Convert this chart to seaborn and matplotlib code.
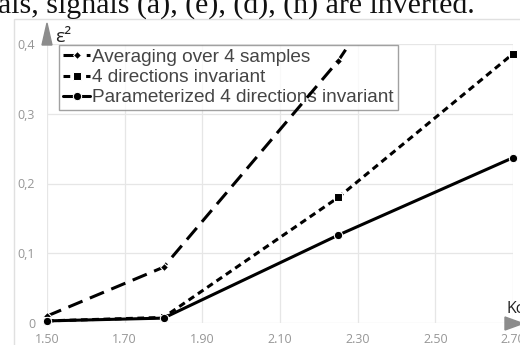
import matplotlib
matplotlib.use("Agg")
import matplotlib.pyplot as plt
from matplotlib.patches import Rectangle, Polygon
import seaborn as sns

k_values = [1.50, 1.80, 2.25, 2.70]
averaging = [0.010, 0.080, 0.376, 0.75]
four_dir = [0.003, 0.008, 0.180, 0.386]
param_four_dir = [0.003, 0.007, 0.126, 0.237]

x_ticks = [1.50, 1.70, 1.90, 2.10, 2.30, 2.50, 2.70]
x_labels = ["1.50", "1.70", "1.90", "2.10", "2.30", "2.50", "2.70"]
y_ticks = [0, 0.1, 0.2, 0.3, 0.4]
y_labels = ["0", "0,1", "0,2", "0,3", "0,4"]

W, H = 520, 345

sns.set_style("white")
plt.rcParams["font.family"] = ["Liberation Sans", "DejaVu Sans"]

fig = plt.figure(figsize=(W / 100, H / 100), dpi=100)


def px(x, y):
    # pixel position (from top-left) -> figure fraction
    return (x / W, 1 - y / H)


# caption fragment above the chart (cut off in the source)
fig.text(-0.004, 1 - 12.5 / H, "als, signals (a), (e), (d), (h) are inverted.",
         fontsize=21.5, family="Liberation Serif", color="#111111", va="baseline")

# chart frame
fig.patches.append(Rectangle(px(14, 400), 1.2, (400 - 19) / H,
                             transform=fig.transFigure, fill=False,
                             edgecolor="#e0e0e0", linewidth=1.0))

ax = fig.add_axes([47 / W, (H - 323) / H, 466 / W, 279 / H])
ax.set_facecolor("none")

sns.lineplot(x=k_values, y=averaging, ax=ax, color="black", linewidth=2.2,
             marker="D", markersize=4.5, label="Averaging over 4 samples", zorder=3)
ax.lines[-1].set_dashes((5, 2.6))
ax.lines[-1].set_clip_path(Rectangle((1.3, -0.1), 1.6, 0.5, transform=ax.transData))

sns.lineplot(x=k_values, y=four_dir, ax=ax, color="black", linewidth=2.2,
             marker="s", markersize=6, label="4 directions invariant",
             clip_on=False, zorder=3)
ax.lines[-1].set_dashes((2.2, 1.5))

sns.lineplot(x=k_values, y=param_four_dir, ax=ax, color="black", linewidth=2.2,
             marker="o", markersize=6, label="Parameterized 4 directions invariant",
             clip_on=False, zorder=3)

ax.set_xlim(1.5, 2.7)
ax.set_ylim(0, 0.4)
ax.set_xticks(x_ticks)
ax.set_xticklabels(x_labels)
ax.set_yticks(y_ticks)
ax.set_yticklabels(y_labels)
ax.tick_params(axis="both", length=0, labelsize=9, labelcolor="#969696")
ax.tick_params(axis="x", pad=7)
ax.tick_params(axis="y", pad=8.5)
for lab in ax.get_xticklabels() + ax.get_yticklabels():
    lab.set_family("Open Sans")
ax.grid(True, color="#e6e6e6", linewidth=0.9)
for s in ax.spines.values():
    s.set_visible(False)
ax.set_xlabel("")
ax.set_ylabel("")

# axis arrows and labels
fig.patches.append(Polygon([px(42, 45), px(52, 45), px(47, 23)], closed=True,
                           transform=fig.transFigure, color="#8c8c8c"))
fig.patches.append(Polygon([px(505, 317), px(505, 330), px(523, 323.5)], closed=True,
                           transform=fig.transFigure, color="#8c8c8c"))
fig.text(*px(55, 42), "ε²", fontsize=14, color="#222222",
         family="Open Sans", va="baseline")
fig.text(*px(507, 313), "Kσ", fontsize=11.5, color="#222222",
         family="Open Sans", va="baseline")

leg = ax.legend(loc="upper left", bbox_to_anchor=(0.0258, 0.9964), borderaxespad=0,
                fancybox=False, frameon=True, fontsize=13.7, handlelength=1.45,
                handletextpad=0.1, labelspacing=0.15, borderpad=0.2)
leg.set_zorder(1.5)
leg.get_frame().set_edgecolor("#8a8a8a")
leg.get_frame().set_linewidth(1.0)
for t in leg.get_texts():
    t.set_color("#454545")

fig.savefig("out.png", dpi=100)
